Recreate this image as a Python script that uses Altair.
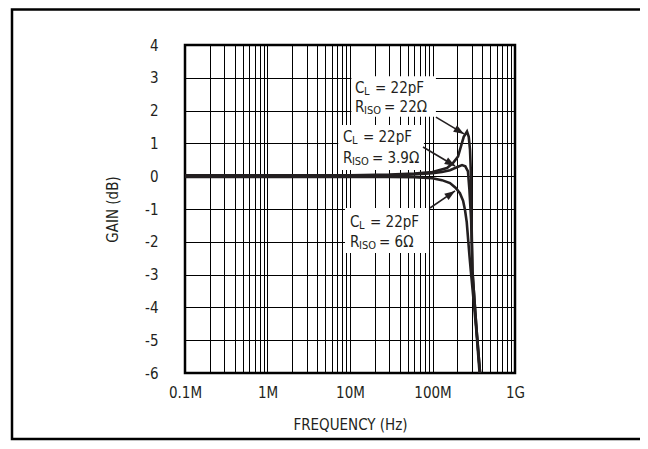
import altair as alt
import pandas as pd

# ---------------- data ----------------
# frequency in MHz, gain in dB
f_22 = [0.1, 1, 10, 30, 60, 100, 150, 177, 204, 215, 239, 262, 275, 285, 293, 297, 305, 340, 377]
g_22 = [0.03, 0.03, 0.03, 0.05, 0.08, 0.13, 0.25, 0.4, 0.6, 0.8, 1.2, 1.36, 1.2, 0.8, 0.0, -1.3, -2.9, -4.6, -6.0]

f_39 = [0.1, 1, 10, 30, 60, 100, 130, 163, 200, 228, 250, 269, 280, 294, 305, 340, 377]
g_39 = [0.0, 0.0, 0.0, 0.02, 0.05, 0.09, 0.13, 0.18, 0.28, 0.34, 0.3, 0.15, -0.4, -1.34, -2.9, -4.6, -6.0]

f_6 = [0.1, 1, 10, 30, 60, 100, 130, 163, 190, 215, 235, 248, 260, 269, 280, 291, 310, 340, 372]
g_6 = [-0.02, -0.02, -0.02, -0.02, -0.03, -0.06, -0.12, -0.21, -0.35, -0.52, -0.75, -1.04, -1.4, -1.86, -2.4, -2.87, -3.6, -4.7, -6.0]

series_names = ["22", "3.9", "6"]

x_tick_vals = [1e5, 1e6, 1e7, 1e8, 1e9]
x_tick_labels = ["0.1M", "1M", "10M", "100M", "1G"]
y_ticks = [-6, -5, -4, -3, -2, -1, 0, 1, 2, 3, 4]

# annotation labels: left x (MHz), line1 gain, line2 gain, R value text
ann_f = [11.5, 8.2, 10.0]
ann_g1 = [2.69, 1.2, -1.4]
ann_g2 = [2.11, 0.56, -2.0]
ann_r = ["22Ω", "3.9Ω", "6Ω"]

# white label boxes (MHz, dB)
box_f1 = [10.4, 7.2, 8.7]
box_f2 = [110, 78.6, 90.8]
box_g1 = [1.81, 0.19, -2.34]
box_g2 = [3.05, 1.56, -0.97]

# arrows: start (MHz, dB) -> tip (MHz, dB), head angle (deg)
arr_f0 = [110, 76.7, 93.3]
arr_g0 = [1.80, 0.89, -0.97]
arr_f1 = [241, 187.6, 187.6]
arr_g1 = [1.29, 0.31, -0.45]
arr_ang = [121, 121, 56]

# ---------------- frames ----------------
rows = []
for name, fs, gs in zip(series_names, [f_22, f_39, f_6], [g_22, g_39, g_6]):
    for f, g in zip(fs, gs):
        rows.append({"series": name, "f": f * 1e6, "g": g})
curves = pd.DataFrame(rows)

boxes = pd.DataFrame({"f1": [v * 1e6 for v in box_f1], "f2": [v * 1e6 for v in box_f2],
                      "g1": box_g1, "g2": box_g2})
arrows = pd.DataFrame({"f0": [v * 1e6 for v in arr_f0], "g0": arr_g0,
                       "f1": [v * 1e6 for v in arr_f1], "g1": arr_g1, "ang": arr_ang})

main_rows, sub_rows, restC_rows, restR_rows = [], [], [], []
for f, g1, g2, r in zip(ann_f, ann_g1, ann_g2, ann_r):
    fh = f * 1e6
    main_rows += [{"f": fh, "g": g1, "t": "C"}, {"f": fh, "g": g2, "t": "R"}]
    sub_rows += [{"f": fh, "g": g1, "t": "L"}, {"f": fh, "g": g2, "t": "ISO"}]
    restC_rows.append({"f": fh, "g": g1, "t": "= 22pF"})
    restR_rows.append({"f": fh, "g": g2, "t": "= " + r})

FONT = "DejaVu Sans Condensed, Liberation Sans Narrow, Liberation Sans, sans-serif"
INK = "#231f20"

label_expr = " : ".join(
    f"datum.value == {int(v)} ? '{l}'" for v, l in zip(x_tick_vals, x_tick_labels)
) + " : ''"
x_grid_vals = [d * 10 ** e for e in range(5, 9) for d in range(1, 10)] + [10 ** 9]

XS = alt.Scale(type="log", domain=[1e5, 1e9], nice=False)
YS = alt.Scale(domain=[-6, 4], nice=False, zero=False)

X_AXIS = alt.Axis(
    values=x_grid_vals, labelExpr=label_expr, title="FREQUENCY (Hz)",
    ticks=False, domain=False, grid=True, gridColor="#000", gridWidth=1,
    labelOverlap=False, labelFlush=False, labelBound=False,
    labelFont=FONT, labelFontSize=15, labelColor=INK, labelPadding=12,
    titleFont=FONT, titleFontSize=15, titleFontWeight="normal", titleColor=INK,
    titleY=51, titleBaseline="middle",
)
Y_AXIS = alt.Axis(
    values=y_ticks, labelExpr="'' + datum.value", title="GAIN (dB)",
    ticks=False, domain=False, labelOverlap=False, labelBound=False, labelFlush=False,
    grid=True, gridColor="#000", gridWidth=1,
    labelFont=FONT, labelFontSize=15, labelColor=INK, labelPadding=27,
    titleFont=FONT, titleFontSize=15, titleFontWeight="normal", titleColor=INK,
    titleX=-73, titleY=164, titleAngle=270, titleAlign="center", titleBaseline="middle",
)


def X(field):
    return alt.X(field, type="quantitative", scale=XS, axis=X_AXIS, title="FREQUENCY (Hz)")


def Y(field):
    return alt.Y(field, type="quantitative", scale=YS, axis=Y_AXIS, title="GAIN (dB)")


lines = alt.Chart(curves).mark_line(clip=True, strokeWidth=2.6, color=INK).encode(
    x=X("f"), y=Y("g"), detail="series:N", order="f:Q"
)

box_layer = alt.Chart(boxes).mark_rect(fill="white").encode(
    x=X("f1"), x2="f2:Q", y=Y("g1"), y2="g2:Q"
)

shafts = alt.Chart(arrows).mark_rule(strokeWidth=1.6, color=INK).encode(
    x=X("f0"), x2="f1:Q", y=Y("g0"), y2="g1:Q"
)
heads = alt.Chart(arrows).mark_point(
    shape="M0,0L-0.62,1.7L0.62,1.7Z", filled=True, size=150, color=INK, opacity=1
).encode(x=X("f1"), y=Y("g1"), angle=alt.Angle("ang:Q", scale=None))


def txt(rows, dx, dy, size):
    return alt.Chart(pd.DataFrame(rows)).mark_text(
        align="left", baseline="middle", dx=dx, dy=dy, font=FONT, fontSize=size, color=INK
    ).encode(x=X("f"), y=Y("g"), text="t:N")


t_main = txt(main_rows, 0, 0, 15)
t_sub = txt(sub_rows, 9, 4, 11)
t_restC = txt(restC_rows, 20, 0, 15)
t_restR = txt(restR_rows, 29, 0, 15)

frame = alt.Chart(pd.DataFrame({"a": [0]})).mark_rect(
    fill="transparent", stroke="#000", strokeWidth=2.5
).encode(x=alt.value(-173), x2=alt.value(480), y=alt.value(-35.5), y2=alt.value(394))

chart = alt.layer(
    lines, box_layer, shafts, heads, t_main, t_sub, t_restC, t_restR, frame
).properties(
    width=330, height=328, autosize="none",
    padding={"left": 177, "top": 37, "right": 125, "bottom": 68},
    background="white",
).configure_view(stroke="#000", strokeWidth=2.5)

chart.save("out.html", embed_options={"renderer": "svg", "actions": False})
